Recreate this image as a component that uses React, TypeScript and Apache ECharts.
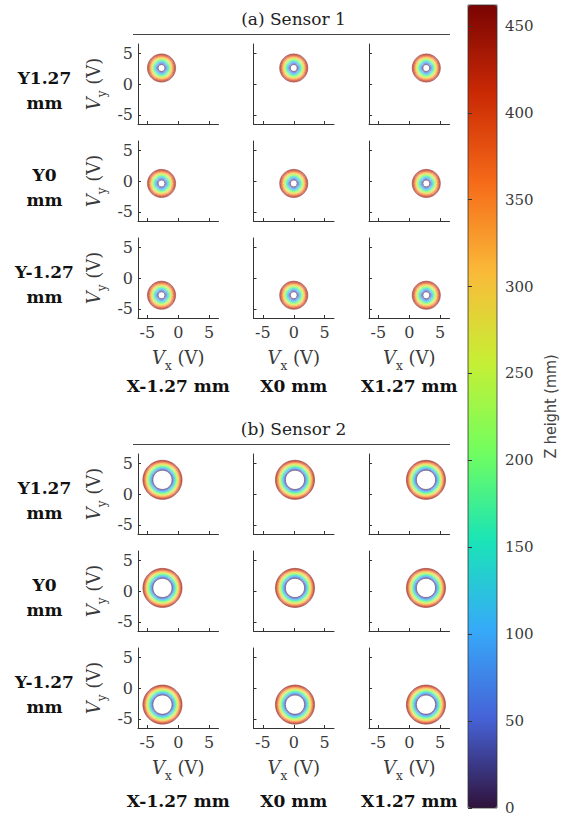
import React, { useEffect, useRef } from 'react';
import * as echarts from 'echarts';

// ---------- data ----------
const sensorTitles = ['(a) Sensor 1', '(b) Sensor 2'];
const rowLabels = ['Y1.27\nmm', 'Y0\nmm', 'Y-1.27\nmm'];
const colLabels = ['X-1.27 mm', 'X0 mm', 'X1.27 mm'];
const axisTickValues = [-5, 0, 5];
const zTickValues = [0, 50, 100, 150, 200, 250, 300, 350, 400, 450];

// Z height levels (mm) of the traced circles
const zLevels = [0, 20, 40, 60, 80, 100, 120, 140, 160, 180, 200, 220, 240, 260, 280, 300, 320, 340, 360, 380, 400, 420, 440, 460];
// circle radius (V) at each Z level
const s1Radius = [0.55, 0.63, 0.71, 0.79, 0.86, 0.94, 1.01, 1.09, 1.16, 1.24, 1.31, 1.39, 1.46, 1.53, 1.61, 1.68, 1.75, 1.83, 1.9, 1.97, 2.05, 2.12, 2.2, 2.28];
const s2Radius = [1.55, 1.62, 1.69, 1.76, 1.83, 1.9, 1.97, 2.04, 2.11, 2.18, 2.25, 2.32, 2.39, 2.46, 2.53, 2.6, 2.67, 2.74, 2.81, 2.88, 2.95, 3.02, 3.09, 3.16];
// circle centres (V), rows = Y1.27, Y0, Y-1.27 ; cols = X-1.27, X0, X1.27
const s1CenterX = [[-2.7, 0, 2.75], [-2.7, 0, 2.75], [-2.7, 0, 2.75]];
const s1CenterY = [[2.6, 2.6, 2.6], [-0.4, -0.4, -0.4], [-2.8, -2.8, -2.8]];
const s2CenterX = [[-2.55, 0.2, 2.7], [-2.55, 0.2, 2.7], [-2.55, 0.2, 2.7]];
const s2CenterY = [[2.3, 2.3, 2.3], [0.5, 0.5, 0.5], [-2.7, -2.7, -2.7]];

const turbo = ['#30123b', '#4662d7', '#36aaf9', '#1ae4b6', '#72fe5e', '#c7ef34', '#faba39', '#f66b19', '#cb2a04', '#7a0403'];

// ---------- layout ----------
const SERIF = '"DejaVu Serif", "Liberation Serif", serif';
const gridLeft = [138, 253.5, 369];
const gridTop = [[44, 141, 238], [454, 551, 648]];
const GW = 80.5;
const GH = 80;
const AXIS_COLOR = '#333';
const LABEL_COLOR = '#3a3a3a';

const nameRich = {
  i: { fontSize: 18, fontFamily: SERIF, fontStyle: 'italic', color: LABEL_COLOR, lineHeight: 30 },
  n: { fontSize: 18, fontFamily: SERIF, color: LABEL_COLOR, lineHeight: 30 },
  s: { fontSize: 12, fontFamily: SERIF, color: LABEL_COLOR, lineHeight: 12, verticalAlign: 'bottom' },
};

function buildOption() {
  const grids: any[] = [];
  const xAxes: any[] = [];
  const yAxes: any[] = [];
  const series: any[] = [];
  const graphics: any[] = [];

  const sensors = [
    { cx: s1CenterX, cy: s1CenterY, rad: s1Radius },
    { cx: s2CenterX, cy: s2CenterY, rad: s2Radius },
  ];

  let idx = 0;
  sensors.forEach((sen, s) => {
    for (let r = 0; r < 3; r++) {
      for (let c = 0; c < 3; c++) {
        grids.push({ left: gridLeft[c], top: gridTop[s][r], width: GW, height: GH, containLabel: false });
        const bottom = r === 2;
        const left = c === 0;
        xAxes.push({
          gridIndex: idx,
          type: 'value',
          min: -6.5,
          max: 6.5,
          axisLine: { show: true, onZero: false, lineStyle: { color: AXIS_COLOR, width: 1 } },
          axisTick: { show: true, inside: true, length: 3, customValues: axisTickValues, lineStyle: { color: AXIS_COLOR } },
          axisLabel: {
            show: bottom,
            customValues: axisTickValues,
            fontSize: 16,
            fontFamily: SERIF,
            color: LABEL_COLOR,
            margin: 6,
          },
          splitLine: { show: false },
          name: bottom ? '{i|V}{s|x}{n| (V)}' : '',
          nameLocation: 'middle',
          nameGap: 24,
          nameTextStyle: { rich: nameRich },
        });
        yAxes.push({
          gridIndex: idx,
          type: 'value',
          min: -6.5,
          max: 6.5,
          axisLine: { show: true, onZero: false, lineStyle: { color: AXIS_COLOR, width: 1 } },
          axisTick: { show: true, inside: true, length: 3, customValues: axisTickValues, lineStyle: { color: AXIS_COLOR } },
          axisLabel: {
            show: left,
            customValues: axisTickValues,
            fontSize: 16,
            fontFamily: SERIF,
            color: LABEL_COLOR,
            margin: 5,
          },
          splitLine: { show: false },
          name: left ? '{i|V}{s|y}{n| (V)}' : '',
          nameLocation: 'middle',
          nameGap: 30,
          nameTextStyle: { rich: nameRich },
        });
        const cx = sen.cx[r][c];
        const cy = sen.cy[r][c];
        series.push({
          type: 'custom',
          coordinateSystem: 'cartesian2d',
          xAxisIndex: idx,
          yAxisIndex: idx,
          clip: false,
          silent: true,
          encode: { x: 0, y: 1 },
          data: zLevels.map((z, i) => [cx, cy, z, sen.rad[i]]),
          renderItem: (params: any, api: any) => {
            const p = api.coord([api.value(0), api.value(1)]);
            const rr = api.size([api.value(3), 0])[0];
            return {
              type: 'circle',
              shape: { cx: p[0], cy: p[1], r: rr },
              style: { fill: 'none', stroke: api.visual('color'), lineWidth: 1, opacity: 0.45 },
            };
          },
        });
        idx++;
      }
    }
    // sensor title + rule
    const ty = s === 0 ? 0 : 410;
    graphics.push({
      type: 'text',
      x: 293.5,
      y: 19 + ty,
      style: { text: sensorTitles[s], font: `17px ${SERIF}`, fill: '#222', textAlign: 'center', textVerticalAlign: 'middle' },
    });
    graphics.push({
      type: 'line',
      shape: { x1: 133, y1: 34.5 + ty, x2: 450, y2: 34.5 + ty },
      style: { stroke: '#444', lineWidth: 1.2 },
    });
    for (let r = 0; r < 3; r++) {
      graphics.push({
        type: 'text',
        x: 44.5,
        y: gridTop[s][r] + GH / 2 + 6,
        style: {
          text: rowLabels[r],
          font: `bold 17px ${SERIF}`,
          fill: '#111',
          textAlign: 'center',
          textVerticalAlign: 'middle',
          lineHeight: 25,
        },
      });
    }
    for (let c = 0; c < 3; c++) {
      graphics.push({
        type: 'text',
        x: gridLeft[c] + GW / 2,
        y: s === 0 ? 386 : 801,
        style: { text: colLabels[c], font: `bold 17px ${SERIF}`, fill: '#111', textAlign: 'center', textVerticalAlign: 'middle' },
      });
    }
  });

  // colour bar axis
  const cbTop = 5;
  const cbHeight = 803;
  grids.push({ left: 468, top: cbTop, width: 29, height: cbHeight, show: true, borderColor: '#333', borderWidth: 0.8, backgroundColor: 'transparent', z: 5 });
  xAxes.push({ gridIndex: idx, type: 'value', min: 0, max: 1, show: false });
  yAxes.push({
    gridIndex: idx,
    type: 'value',
    position: 'right',
    min: 0,
    max: 462,
    z: 10,
    axisLine: { show: false },
    axisTick: { show: true, inside: false, length: 4, customValues: zTickValues, lineStyle: { color: '#333' } },
    axisLabel: { customValues: zTickValues, fontSize: 15, fontFamily: SERIF, color: LABEL_COLOR, margin: 8 },
    splitLine: { show: false },
    name: 'Z height (mm)',
    nameLocation: 'middle',
    nameRotate: 90,
    nameGap: 45,
    nameTextStyle: { fontSize: 16, fontFamily: '"Liberation Sans Narrow", "DejaVu Sans Condensed", "Noto Sans", sans-serif', color: '#444' },
  });

  return {
    animation: false,
    backgroundColor: '#fff',
    grid: grids,
    xAxis: xAxes,
    yAxis: yAxes,
    visualMap: {
      type: 'continuous',
      min: 0,
      max: 462,
      dimension: 2,
      seriesIndex: series.map((_, i) => i),
      inRange: { color: turbo },
      calculable: false,
      hoverLink: false,
      orient: 'vertical',
      left: 468,
      top: cbTop,
      itemWidth: 29,
      itemHeight: cbHeight,
      padding: 0,
      text: null,
      z: 4,
    },
    series,
    graphic: graphics,
  };
}

export default function App() {
  const ref = useRef<HTMLDivElement>(null);
  useEffect(() => {
    if (!ref.current) return;
    const chart = echarts.init(ref.current, null, { renderer: 'svg' });
    chart.setOption(buildOption() as any);
    return () => chart.dispose();
  }, []);
  return <div ref={ref} style={{ width: 571, height: 819, position: 'absolute', left: 0, top: 0 }} />;
}
